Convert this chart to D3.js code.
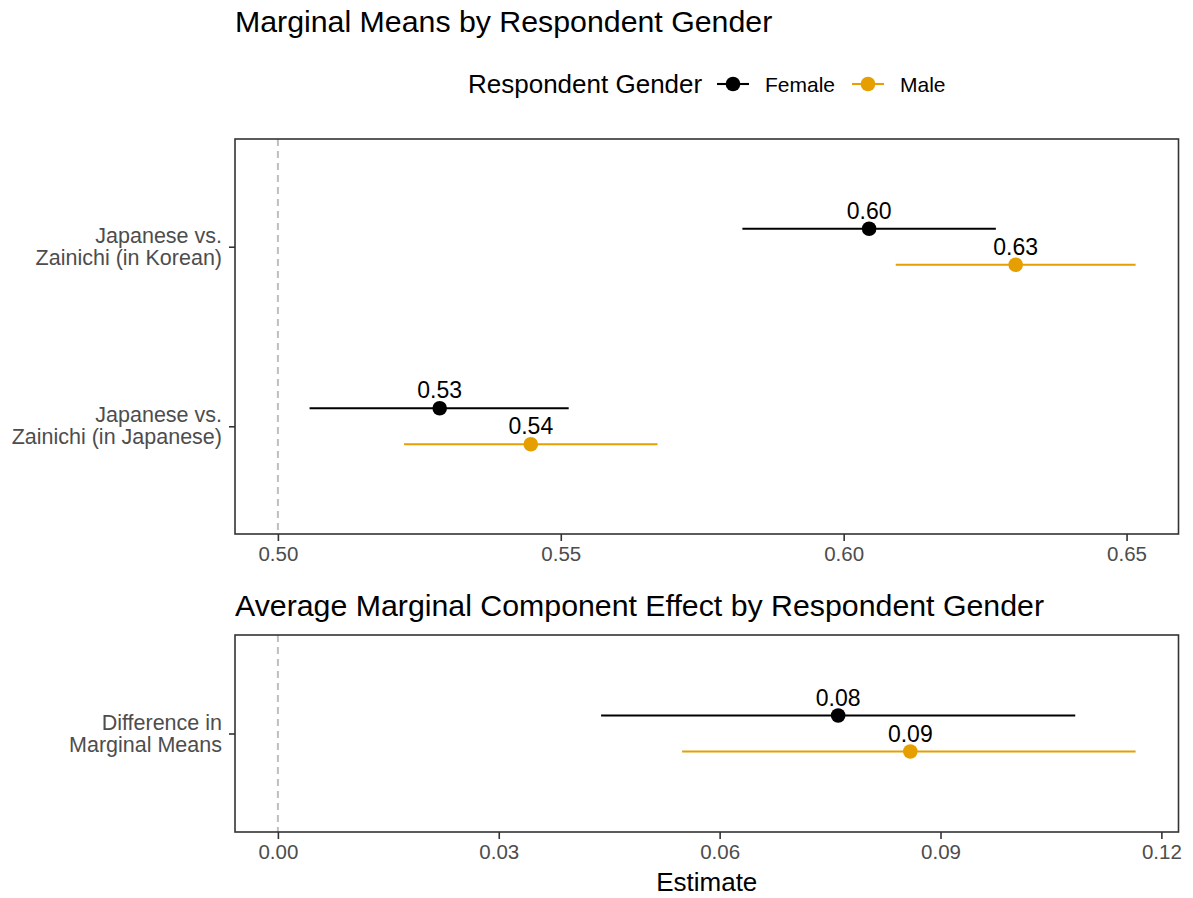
<!DOCTYPE html>
<html>
<head>
<meta charset="utf-8">
<script src="https://cdn.jsdelivr.net/npm/d3@7"></script>
<style>
  html, body { margin: 0; padding: 0; background: #ffffff; }
  svg { display: block; font-family: "Liberation Sans", Arial, Helvetica, sans-serif; }
</style>
</head>
<body>
<svg id="chart" width="1193" height="898"></svg>
<script>
// ---- data ----
const genders = ["Female", "Male"];
const genderColors = ["#000000", "#E69F00"];

// Marginal means panel
const mmCategories = ["Japanese vs.\nZainichi (in Korean)", "Japanese vs.\nZainichi (in Japanese)"];
const mmEstimateFemale = [0.6045, 0.5286];
const mmLowerFemale    = [0.5821, 0.5056];
const mmUpperFemale    = [0.6269, 0.5514];
const mmEstimateMale   = [0.6304, 0.5447];
const mmLowerMale      = [0.6092, 0.5223];
const mmUpperMale      = [0.6516, 0.5671];
const mmTicks = [0.50, 0.55, 0.60, 0.65];
const mmReference = 0.5;

// AMCE panel
const amceCategories = ["Difference in\nMarginal Means"];
const amceEstimate = [0.0761, 0.0859];   // Female, Male
const amceLower    = [0.0439, 0.0549];
const amceUpper    = [0.1083, 0.1165];
const amceTicks = [0.00, 0.03, 0.06, 0.09, 0.12];
const amceReference = 0;

// ---- layout ----
const svg = d3.select("#chart");
const panelLeft = 235, panelRight = 1178.5;
const dodge = 18;
const fmt = d3.format(".2f");
const tickColor = "#333333";
const tickTextColor = "#4D4D4D";

function expandDomain(lo, hi) {
  const pad = (hi - lo) * 0.05;
  return [lo - pad, hi + pad];
}

function drawPanel(opts) {
  const { top, bottom, categories, rows, ticks, reference } = opts;
  const allVals = [reference];
  rows.forEach(r => { allVals.push(r.lower, r.upper); });
  const x = d3.scaleLinear()
    .domain(expandDomain(d3.min(allVals), d3.max(allVals)))
    .range([panelLeft, panelRight]);
  const y = d3.scalePoint()
    .domain(categories)
    .range([top, bottom])
    .padding(0.6);

  const g = svg.append("g");

  // reference line
  g.append("line")
    .attr("x1", x(reference)).attr("x2", x(reference))
    .attr("y1", top).attr("y2", bottom)
    .attr("stroke", "#BEBEBE").attr("stroke-width", 2)
    .attr("stroke-dasharray", "7,5");

  // intervals, points, labels
  const marks = g.selectAll("g.mark").data(rows).join("g").attr("class", "mark");
  marks.append("line")
    .attr("x1", d => x(d.lower)).attr("x2", d => x(d.upper))
    .attr("y1", d => y(d.category) + d.offset).attr("y2", d => y(d.category) + d.offset)
    .attr("stroke", d => d.color).attr("stroke-width", 2.1);
  marks.append("circle")
    .attr("cx", d => x(d.estimate)).attr("cy", d => y(d.category) + d.offset)
    .attr("r", 7.3).attr("fill", d => d.color);
  marks.append("text")
    .attr("x", d => x(d.estimate)).attr("y", d => y(d.category) + d.offset - 10)
    .attr("text-anchor", "middle")
    .attr("font-size", 23).attr("fill", "#000")
    .text(d => fmt(d.estimate));

  // panel border
  g.append("rect")
    .attr("x", panelLeft).attr("y", top)
    .attr("width", panelRight - panelLeft).attr("height", bottom - top)
    .attr("fill", "none").attr("stroke", tickColor).attr("stroke-width", 1.6);

  // x axis
  const xAxis = d3.axisBottom(x).tickValues(ticks).tickFormat(fmt).tickSize(7).tickPadding(5);
  const xa = g.append("g").attr("transform", `translate(0,${bottom})`).call(xAxis);
  xa.select(".domain").remove();
  xa.selectAll(".tick line").attr("stroke", tickColor).attr("stroke-width", 1.6);
  xa.selectAll(".tick text").attr("font-size", 20.5).attr("fill", tickTextColor)
    .attr("font-family", "Liberation Sans, Arial, sans-serif");

  // y axis
  const yAxis = d3.axisLeft(y).tickSize(6).tickFormat("");
  const ya = g.append("g").attr("transform", `translate(${panelLeft},0)`).call(yAxis);
  ya.select(".domain").remove();
  ya.selectAll(".tick line").attr("stroke", tickColor).attr("stroke-width", 1.6);
  categories.forEach(c => {
    const lines = c.split("\n");
    const t = g.append("text")
      .attr("text-anchor", "end")
      .attr("font-size", 21.5).attr("fill", tickTextColor);
    lines.forEach((ln, i) => {
      t.append("tspan").attr("x", 222)
        .attr("y", y(c) - 4 + i * 22)
        .text(ln);
    });
  });
  return x;
}

function buildRows(categories, est, lo, hi) {
  const rows = [];
  categories.forEach((c, i) => {
    genders.forEach((gname, gi) => {
      rows.push({
        category: c, gender: gname, color: genderColors[gi],
        offset: gi === 0 ? -dodge : dodge,
        estimate: est[gi][i], lower: lo[gi][i], upper: hi[gi][i]
      });
    });
  });
  return rows;
}

// ---- titles ----
svg.append("text").attr("x", 235).attr("y", 32)
  .attr("font-size", 30.3).attr("fill", "#000")
  .text("Marginal Means by Respondent Gender");

// ---- legend ----
const legend = svg.append("g");
legend.append("text").attr("x", 468).attr("y", 93)
  .attr("font-size", 26).attr("fill", "#000").text("Respondent Gender");
const legendKeys = [733, 868];
genders.forEach((gname, i) => {
  const cx = legendKeys[i];
  legend.append("line")
    .attr("x1", cx - 16).attr("x2", cx + 16).attr("y1", 84).attr("y2", 84)
    .attr("stroke", genderColors[i]).attr("stroke-width", 2.1);
  legend.append("circle").attr("cx", cx).attr("cy", 84).attr("r", 7.3)
    .attr("fill", genderColors[i]);
  legend.append("text").attr("x", cx + 32).attr("y", 92)
    .attr("font-size", 21).attr("fill", "#000").text(gname);
});

// ---- top panel: marginal means ----
drawPanel({
  top: 139, bottom: 534,
  categories: mmCategories,
  rows: buildRows(mmCategories,
    [mmEstimateFemale, mmEstimateMale],
    [mmLowerFemale, mmLowerMale],
    [mmUpperFemale, mmUpperMale]),
  ticks: mmTicks, reference: mmReference
});

// ---- bottom panel: AMCE ----
svg.append("text").attr("x", 235).attr("y", 616)
  .attr("font-size", 30.3).attr("fill", "#000")
  .text("Average Marginal Component Effect by Respondent Gender");

drawPanel({
  top: 635, bottom: 832,
  categories: amceCategories,
  rows: buildRows(amceCategories,
    [[amceEstimate[0]], [amceEstimate[1]]],
    [[amceLower[0]], [amceLower[1]]],
    [[amceUpper[0]], [amceUpper[1]]]),
  ticks: amceTicks, reference: amceReference
});

svg.append("text").attr("x", (panelLeft + panelRight) / 2).attr("y", 891)
  .attr("text-anchor", "middle")
  .attr("font-size", 26).attr("fill", "#000").text("Estimate");
</script>
</body>
</html>
